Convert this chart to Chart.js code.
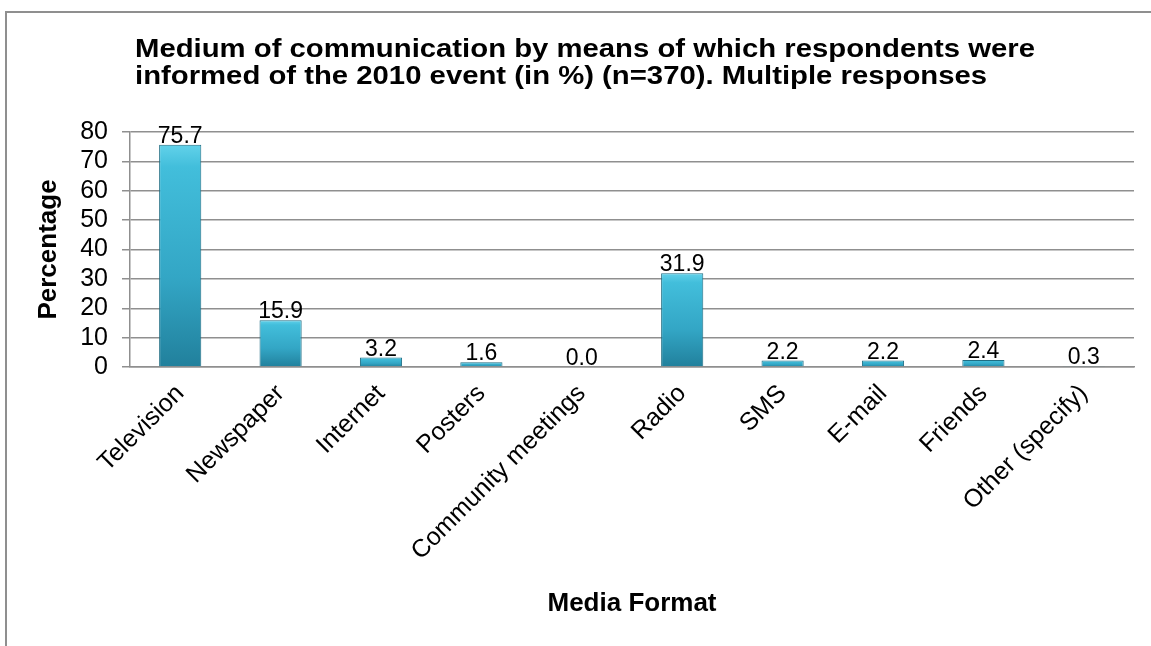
<!DOCTYPE html>
<html lang="en">
<head>
  <meta charset="UTF-8">
  <title>Medium of communication</title>
  <script src="https://cdn.jsdelivr.net/npm/chart.js"></script>
  <style>
    body { margin: 0; background: #fff; }
    /* outer frame of the chart object, only left and top edges are visible */
    #frame {
      position: absolute; left: 5px; top: 11px;
      width: 3000px; height: 3000px;
      border-left: 2px solid #8f8f8f; border-top: 2px solid #8f8f8f;
    }
    #wrap { position: relative; width: 1151px; height: 646px; overflow: hidden; }
    #chart { position: absolute; left: 0; top: 0; }
  </style>
</head>
<body>
<div id="wrap">
  <div id="frame"></div>
  <canvas id="chart" width="1151" height="646"></canvas>
</div>
<script>
  // chart data
  const titleLines = [
    'Medium of communication by means of which respondents were',
    'informed of the 2010 event (in %) (n=370). Multiple responses'
  ];
  const categories = ['Television', 'Newspaper', 'Internet', 'Posters', 'Community meetings',
                      'Radio', 'SMS', 'E-mail', 'Friends', 'Other (specify)'];
  const percentages = [75.7, 15.9, 3.2, 1.6, 0.0, 31.9, 2.2, 2.2, 2.4, 0.3];
  const yTicks = [0, 10, 20, 30, 40, 50, 60, 70, 80];

  const FONT = '"Liberation Sans", Arial, sans-serif';

  // bar fill: light cyan at top of each bar to darker teal at the base
  function barFill(context) {
    const chart = context.chart;
    const y = chart.scales.y;
    if (!chart.chartArea || !y) return '#38b2d2';
    const v = context.raw;
    const top = y.getPixelForValue(v);
    const base = y.getPixelForValue(0);
    if (!isFinite(top) || base - top < 1) return '#4ec5e0';
    const g = chart.ctx.createLinearGradient(0, top, 0, base);
    g.addColorStop(0, '#62d2ea');
    g.addColorStop(0.1, '#42bedb');
    g.addColorStop(0.6, '#33a6c5');
    g.addColorStop(1, '#21809c');
    return g;
  }

  // title drawn by hand, left aligned and slightly widened like the original
  const titlePlugin = {
    id: 'leftTitle',
    afterDraw(chart) {
      const ctx = chart.ctx;
      ctx.save();
      ctx.font = 'bold 25px ' + FONT;
      ctx.fillStyle = '#000';
      ctx.textAlign = 'left';
      ctx.textBaseline = 'alphabetic';
      const w = ctx.measureText(titleLines[0]).width;
      const sx = 900 / w;
      const baselines = [57, 84];
      titleLines.forEach((line, i) => {
        ctx.save();
        ctx.translate(135, baselines[i]);
        ctx.scale(sx, 1);
        ctx.fillText(line, 0, 0);
        ctx.restore();
      });
      ctx.restore();
    }
  };

  // value labels on top of the bars
  const valueLabels = {
    id: 'valueLabels',
    afterDatasetsDraw(chart) {
      const ctx = chart.ctx;
      const meta = chart.getDatasetMeta(0);
      ctx.save();
      ctx.font = '23px ' + FONT;
      ctx.fillStyle = '#000';
      ctx.textAlign = 'center';
      ctx.textBaseline = 'alphabetic';
      meta.data.forEach((bar, i) => {
        ctx.fillText(percentages[i].toFixed(1), bar.x, bar.y - 2);
      });
      ctx.restore();
    }
  };

  new Chart(document.getElementById('chart'), {
    type: 'bar',
    data: {
      labels: categories,
      datasets: [{
        data: percentages,
        backgroundColor: barFill,
        borderColor: '#1f6d83',
        borderWidth: 1,
        barPercentage: 0.42,
        categoryPercentage: 1.0
      }]
    },
    options: {
      responsive: false,
      animation: false,
      layout: { padding: { top: 132, right: 17, left: 10, bottom: 0 } },
      plugins: {
        legend: { display: false },
        title: { display: false },
        tooltip: { enabled: false }
      },
      scales: {
        x: {
          grid: { display: false },
          border: { display: true, color: '#8f8f8f', width: 1.5 },
          ticks: {
            color: '#000',
            font: { family: FONT, size: 25 },
            maxRotation: 45, minRotation: 45,
            autoSkip: false,
            padding: 4
          },
          title: {
            display: true,
            text: 'Media Format',
            color: '#000',
            font: { family: FONT, size: 26, weight: 'bold' },
            padding: { top: 0, bottom: 27 }
          },
          afterFit(scale) { scale.height = 279; }
        },
        y: {
          min: 0, max: 80,
          afterBuildTicks(scale) { scale.ticks = yTicks.map(v => ({ value: v })); },
          grid: { color: '#8f8f8f', lineWidth: 1.5, tickLength: 8 },
          border: { display: true, color: '#8f8f8f', width: 1.5 },
          ticks: {
            color: '#000',
            font: { family: FONT, size: 25 },
            autoSkip: false,
            padding: 14
          },
          title: {
            display: true,
            text: 'Percentage',
            color: '#000',
            font: { family: FONT, size: 26, weight: 'bold' },
            padding: { top: 23, bottom: 10 }
          },
          afterFit(scale) { scale.width = 120; }
        }
      }
    },
    plugins: [titlePlugin, valueLabels]
  });
</script>
</body>
</html>
